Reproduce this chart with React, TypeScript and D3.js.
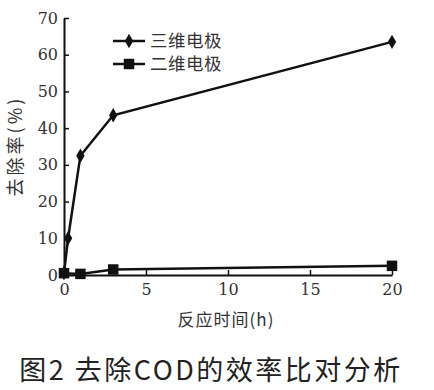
import React, { useEffect, useRef } from 'react';
import * as d3 from 'd3';

// 三维电极 (diamond markers)
const timeA = [0, 0.25, 1, 3, 20];
const rateA = [0.5, 10, 32.5, 43.5, 63.5];
// 二维电极 (square markers)
const timeB = [0, 1, 3, 20];
const rateB = [0.5, 0.3, 1.5, 2.5];

const xTicks = [0, 5, 10, 15, 20];
const yTicks = [0, 10, 20, 30, 40, 50, 60, 70];
const seriesNames = ['三维电极', '二维电极'];

const W = 434;
const H = 390;
const numFont = 'DejaVu Serif';
const cjkFont = "'Noto Sans CJK SC', sans-serif";

const App: React.FC = () => {
  const svgRef = useRef<SVGSVGElement>(null);

  useEffect(() => {
    if (!svgRef.current) return;
    const svg = d3.select(svgRef.current);
    svg.selectAll('*').remove();

    const x = d3.scaleLinear().domain([0, 20]).range([64, 392]);
    const y = d3.scaleLinear().domain([0, 70]).range([275, 18]);

    svg.append('rect').attr('width', W).attr('height', H).attr('fill', '#fff');

    // axes
    const xAxis = svg.append('g').attr('transform', `translate(0,${y(0)})`)
      .call(d3.axisBottom(x).tickValues(xTicks).tickSizeInner(-5).tickSizeOuter(0).tickPadding(9));
    const yAxis = svg.append('g').attr('transform', `translate(${x(0)},0)`)
      .call(d3.axisLeft(y).tickValues(yTicks).tickSizeInner(-5).tickSizeOuter(0).tickPadding(6));
    [xAxis, yAxis].forEach(g => {
      g.attr('font-family', numFont).attr('font-size', 16);
      g.select('.domain').attr('stroke', '#111').attr('stroke-width', 2);
      g.selectAll('.tick line').attr('stroke', '#111').attr('stroke-width', 1.5);
      g.selectAll('.tick text').attr('fill', '#333');
    });

    const line = d3.line<[number, number]>().x(d => x(d[0])).y(d => y(d[1]));
    const ptsA = timeA.map((t, i) => [t, rateA[i]] as [number, number]);
    const ptsB = timeB.map((t, i) => [t, rateB[i]] as [number, number]);

    svg.append('path').datum(ptsB).attr('d', line).attr('fill', 'none')
      .attr('stroke', '#111').attr('stroke-width', 2.5);
    svg.append('path').datum(ptsA).attr('d', line).attr('fill', 'none')
      .attr('stroke', '#111').attr('stroke-width', 2.5);

    const diamond = d3.symbol().type(d3.symbolDiamond).size(60);
    const square = d3.symbol().type(d3.symbolSquare).size(110);

    svg.selectAll('.ma').data(ptsA).enter().append('path')
      .attr('d', diamond).attr('transform', d => `translate(${x(d[0])},${y(d[1])})`).attr('fill', '#111');
    svg.selectAll('.mb').data(ptsB).enter().append('path')
      .attr('d', square).attr('transform', d => `translate(${x(d[0])},${y(d[1])})`).attr('fill', '#111');

    // legend
    seriesNames.forEach((name, i) => {
      const ly = 41 + i * 23;
      svg.append('line').attr('x1', 113).attr('x2', 145).attr('y1', ly).attr('y2', ly)
        .attr('stroke', '#111').attr('stroke-width', 2.5);
      svg.append('path').attr('d', i === 0 ? diamond : square)
        .attr('transform', `translate(129,${ly})`).attr('fill', '#111');
      svg.append('text').attr('x', 150).attr('y', ly + 6).text(name)
        .attr('font-family', cjkFont).attr('font-size', 17.5).attr('letter-spacing', 0.5).attr('fill', '#333');
    });

    // axis titles
    svg.append('text').attr('x', 226).attr('y', 326).attr('text-anchor', 'middle')
      .attr('font-family', cjkFont).attr('font-size', 17).attr('letter-spacing', 1)
      .attr('fill', '#333').text('反应时间(h)');
    svg.append('text').attr('transform', 'translate(22,146) rotate(-90)').attr('text-anchor', 'middle')
      .attr('font-family', cjkFont).attr('font-size', 18).attr('letter-spacing', 3)
      .attr('fill', '#333').text('去除率(%)');

    // caption
    svg.append('text').attr('x', 211).attr('y', 380).attr('text-anchor', 'middle')
      .attr('font-family', cjkFont).attr('font-size', 27).attr('letter-spacing', 2.5)
      .attr('fill', '#222').text('图2 去除COD的效率比对分析');
  }, []);

  return (
    <svg ref={svgRef} width={W} height={H}
      style={{ position: 'absolute', left: 0, top: 0, display: 'block' }} />
  );
};

export default App;
